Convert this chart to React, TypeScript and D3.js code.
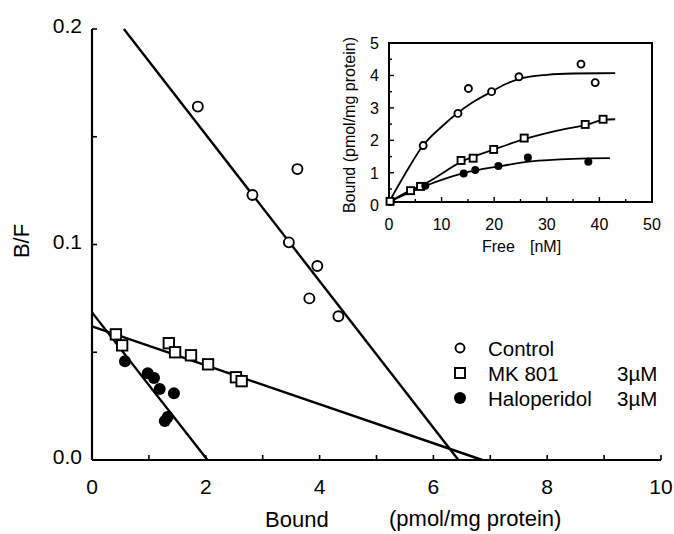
import React from 'react';
import * as d3 from 'd3';

// Scatchard plot (B/F vs Bound) with a saturation-curve inset.

const W = 674;
const H = 534;
const FONT = '"Liberation Sans", Arial, Helvetica, sans-serif';

// main plot: [bound, B/F]
const controlPts = [
  [1.86, 0.164], [3.61, 0.135], [2.82, 0.123], [3.46, 0.101],
  [3.96, 0.090], [3.82, 0.075], [4.33, 0.0667],
];
const mk801Pts = [
  [0.42, 0.0583], [0.53, 0.0532], [1.35, 0.0542], [1.46, 0.050],
  [1.74, 0.0486], [2.04, 0.0444], [2.53, 0.0384], [2.63, 0.0366],
];
const haloPts = [
  [0.58, 0.0458], [0.98, 0.0403], [1.09, 0.038], [1.19, 0.0329],
  [1.44, 0.031], [1.33, 0.0199], [1.28, 0.0181],
];
const controlFit = [[0.56, 0.2], [6.44, 0]];
const mk801Fit = [[0, 0.062], [6.86, 0]];
const haloFit = [[0, 0.0685], [2.03, 0]];

const xTicks = [0, 1, 2, 3, 4, 5, 6, 7, 8, 9, 10];
const xLabels = [0, 2, 4, 6, 8, 10];
const yTicks = [0, 0.05, 0.1, 0.15, 0.2];
const yLabels = ['0.0', '0.1', '0.2'];

// inset: [free nM, bound pmol/mg]
const insControl = [
  [0.3, 0.12], [6.5, 1.84], [13.1, 2.83], [15.1, 3.6], [19.5, 3.5],
  [24.7, 3.96], [36.5, 4.35], [39.2, 3.78],
];
const insMk801 = [
  [0.2, 0.12], [4.1, 0.45], [6.0, 0.58], [13.7, 1.38], [16.0, 1.45],
  [19.9, 1.72], [25.7, 2.07], [37.3, 2.49], [40.7, 2.65],
];
const insHalo = [
  [6.9, 0.6], [14.2, 0.98], [16.4, 1.09], [20.8, 1.21], [26.4, 1.47], [37.9, 1.34],
];
const insControlCurve = [
  [0, 0.1], [3, 0.95], [6.5, 1.85], [10, 2.42], [13.1, 2.85], [16, 3.18],
  [19.5, 3.5], [22, 3.72], [25, 3.9], [30, 4.02], [35, 4.06], [43, 4.07],
];
const insMk801Curve = [
  [0, 0.1], [4, 0.45], [7, 0.68], [14, 1.36], [20, 1.72], [26, 2.05],
  [32, 2.3], [38, 2.5], [41, 2.64], [43, 2.65],
];
const insHaloCurve = [
  [0, 0.1], [7, 0.6], [14, 0.98], [21, 1.2], [27, 1.35], [35, 1.43], [42, 1.45],
];
const insXTicks = [0, 5, 10, 15, 20, 25, 30, 35, 40, 45, 50];
const insXLabels = [0, 10, 20, 30, 40, 50];
const insYTicks = [0.5, 1, 1.5, 2, 2.5, 3, 3.5, 4, 4.5, 5];
const insYLabels = [0, 1, 2, 3, 4, 5];

const legendItems = [
  { shape: 'circle', label: 'Control', conc: '' },
  { shape: 'square', label: 'MK 801', conc: '3\u00b5M' },
  { shape: 'dot', label: 'Haloperidol', conc: '3\u00b5M' },
];

function Marker({ shape, cx, cy, r }: { shape: string; cx: number; cy: number; r: number }) {
  if (shape === 'square') {
    return <rect x={cx - r} y={cy - r} width={2 * r} height={2 * r} fill="#fff" stroke="#000" strokeWidth={1.9} />;
  }
  if (shape === 'dot') {
    return <circle cx={cx} cy={cy} r={r} fill="#000" />;
  }
  return <circle cx={cx} cy={cy} r={r} fill="#fff" stroke="#000" strokeWidth={1.9} />;
}

export default function App() {
  const x = d3.scaleLinear().domain([0, 10]).range([92, 661]);
  const y = d3.scaleLinear().domain([0, 0.2]).range([460, 29]);
  const line = d3.line<number[]>().x(d => x(d[0])).y(d => y(d[1]));

  const ix = d3.scaleLinear().domain([0, 50]).range([389, 652]);
  const iy = d3.scaleLinear().domain([0.1, 5]).range([202, 43]);
  const iline = d3.line<number[]>().x(d => ix(d[0])).y(d => iy(d[1])).curve(d3.curveMonotoneX);

  return (
    <svg width={W} height={H} style={{ position: 'absolute', left: 0, top: 0, background: '#fff' }} fontFamily={FONT}>
      {/* main axes */}
      <line x1={x(0)} x2={x(10)} y1={y(0)} y2={y(0)} stroke="#000" strokeWidth={2.2} />
      <line x1={x(0)} x2={x(0)} y1={y(0)} y2={y(0.2)} stroke="#000" strokeWidth={2.2} />
      {xTicks.map(t => (
        <line key={'xt' + t} x1={x(t)} x2={x(t)} y1={y(0)} y2={y(0) - 5} stroke="#000" strokeWidth={1.6} />
      ))}
      {yTicks.map(t => (
        <line key={'yt' + t} x1={x(0)} x2={x(0) + 5} y1={y(t)} y2={y(t)} stroke="#000" strokeWidth={1.6} />
      ))}
      {xLabels.map(t => (
        <text key={'xl' + t} x={x(t)} y={494} fontSize={21} textAnchor="middle">{t}</text>
      ))}
      {yLabels.map(t => (
        <text key={'yl' + t} x={82} y={y(+t) + 4} fontSize={21} textAnchor="end">{t}</text>
      ))}
      <text x={265} y={527} fontSize={22}>Bound</text>
      <text x={389} y={526} fontSize={22}>(pmol/mg protein)</text>
      <text transform="translate(29,241) rotate(-90)" fontSize={22} textAnchor="middle">B/F</text>

      {/* fit lines */}
      {[controlFit, mk801Fit, haloFit].map((f, i) => (
        <path key={'fit' + i} d={line(f) || ''} fill="none" stroke="#000" strokeWidth={2.4} />
      ))}

      {/* points */}
      {controlPts.map((d, i) => <Marker key={'c' + i} shape="circle" cx={x(d[0])} cy={y(d[1])} r={5} />)}
      {mk801Pts.map((d, i) => <Marker key={'m' + i} shape="square" cx={x(d[0])} cy={y(d[1])} r={5.2} />)}
      {haloPts.map((d, i) => <Marker key={'h' + i} shape="dot" cx={x(d[0])} cy={y(d[1])} r={6} />)}

      {/* legend */}
      {legendItems.map((it, i) => {
        const cy = 348 + i * 25;
        return (
          <g key={'lg' + i}>
            <Marker shape={it.shape} cx={460} cy={cy} r={it.shape === 'dot' ? 6 : it.shape === 'square' ? 5 : 4.5} />
            <text x={488} y={cy + 8} fontSize={20.5}>{it.label}</text>
            {it.conc && <text x={617} y={cy + 8} fontSize={20.5}>{it.conc}</text>}
          </g>
        );
      })}

      {/* inset */}
      <rect x={ix(0)} y={iy(5)} width={ix(50) - ix(0)} height={iy(0.1) - iy(5)} fill="none" stroke="#000" strokeWidth={2} />
      {insXTicks.map(t => (
        <line key={'ixt' + t} x1={ix(t)} x2={ix(t)} y1={iy(0.1)} y2={iy(0.1) - (t % 10 === 0 ? 5 : 3)} stroke="#000" strokeWidth={1.4} />
      ))}
      {insYTicks.map(t => (
        <line key={'iyt' + t} x1={ix(0)} x2={ix(0) + (t % 1 === 0 ? 5 : 3)} y1={iy(t)} y2={iy(t)} stroke="#000" strokeWidth={1.4} />
      ))}
      {insXLabels.map(t => (
        <text key={'ixl' + t} x={ix(t)} y={230} fontSize={16} textAnchor="middle">{t}</text>
      ))}
      {insYLabels.map(t => (
        <text key={'iyl' + t} x={379} y={iy(t) + 6} fontSize={16} textAnchor="end">{t}</text>
      ))}
      <text transform="translate(355,125) rotate(-90)" fontSize={16} textAnchor="middle">Bound (pmol/mg protein)</text>
      <text x={482} y={252} fontSize={16}>Free</text>
      <text x={530} y={252} fontSize={16}>[nM]</text>

      {[insControlCurve, insMk801Curve, insHaloCurve].map((c, i) => (
        <path key={'ic' + i} d={iline(c) || ''} fill="none" stroke="#000" strokeWidth={1.8} />
      ))}
      {insControl.map((d, i) => <Marker key={'ico' + i} shape="circle" cx={ix(d[0])} cy={iy(d[1])} r={3.5} />)}
      {insMk801.map((d, i) => <Marker key={'imk' + i} shape="square" cx={ix(d[0])} cy={iy(d[1])} r={3.5} />)}
      {insHalo.map((d, i) => <Marker key={'iha' + i} shape="dot" cx={ix(d[0])} cy={iy(d[1])} r={4} />)}
    </svg>
  );
}
